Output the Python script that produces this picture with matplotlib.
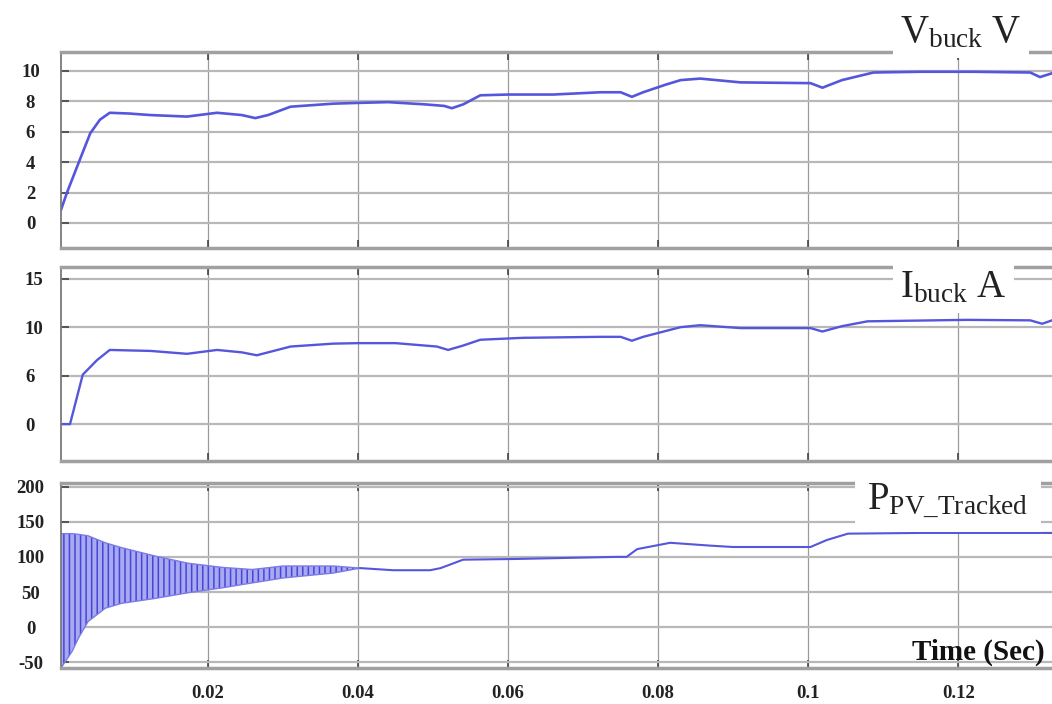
import numpy as np
import matplotlib
matplotlib.use("Agg")
import matplotlib.pyplot as plt
from matplotlib.transforms import ScaledTranslation

# datos
v_t = [0.0004, 0.0012, 0.0029, 0.0043, 0.0056, 0.0069, 0.0095, 0.0123, 0.0172, 0.0212,
       0.0245, 0.0263, 0.028, 0.031, 0.0367, 0.040, 0.044, 0.049, 0.0515, 0.0525,
       0.054, 0.0563, 0.060, 0.066, 0.0723, 0.075, 0.0765, 0.078, 0.081, 0.083,
       0.0856, 0.091, 0.1003, 0.1019, 0.1045, 0.1087, 0.115, 0.122, 0.1296, 0.1309,
       0.1325]
v_buck = [0.86, 2.0, 4.15, 5.9, 6.8, 7.25, 7.2, 7.1, 7.0, 7.25,
          7.1, 6.9, 7.1, 7.65, 7.85, 7.9, 7.95, 7.8, 7.7, 7.55,
          7.8, 8.4, 8.45, 8.45, 8.6, 8.6, 8.3, 8.6, 9.1, 9.4,
          9.5, 9.25, 9.2, 8.9, 9.4, 9.9, 9.95, 9.95, 9.9, 9.6,
          9.85]

i_t = [0.0004, 0.0016, 0.0033, 0.0052, 0.0069, 0.0095, 0.0123, 0.0172, 0.0212, 0.0245,
       0.0265, 0.028, 0.031, 0.0367, 0.040, 0.045, 0.0505, 0.052, 0.054, 0.0563,
       0.062, 0.0723, 0.075, 0.0765, 0.078, 0.081, 0.083, 0.0856, 0.091, 0.1003,
       0.1019, 0.1045, 0.1079, 0.1212, 0.1296, 0.1312, 0.1325]
i_buck = [0.0, 0.0, 5.1, 6.6, 7.65, 7.6, 7.55, 7.25, 7.65, 7.4,
          7.1, 7.4, 8.0, 8.3, 8.35, 8.35, 8.0, 7.65, 8.1, 8.7,
          8.9, 9.0, 9.0, 8.6, 9.0, 9.6, 10.0, 10.2, 9.9, 9.9,
          9.55, 10.1, 10.6, 10.75, 10.7, 10.35, 10.7]

# envolvente de la oscilacion inicial de potencia
p_osc_t = [0.0004, 0.0019, 0.0027, 0.004, 0.0063, 0.0085, 0.013, 0.0173, 0.0219, 0.0259,
           0.030, 0.0367, 0.0403]
p_osc_hi = [133, 133, 132, 130, 120, 113, 101, 91, 85, 82, 87, 87, 84]
p_osc_lo = [-58, -34, -16, 8, 27, 34, 41, 49, 56, 63, 70, 77, 84]

p_t = [0.0403, 0.0447, 0.0496, 0.051, 0.054, 0.0611, 0.0745, 0.0758, 0.0772, 0.0816,
       0.0869, 0.090, 0.1003, 0.1025, 0.1053, 0.115, 0.1325]
p_pv = [84, 81, 81, 84, 96, 97, 100, 100, 111, 120,
        116, 114, 114, 124, 133, 134, 134]

v_ticks = [0, 2, 4, 6, 8, 10]
i_ticks = [0, 5, 10, 15]
i_labels = ["0", "6", "10", "15"]
p_ticks = [-50, 0, 50, 100, 150, 200]
x_ticks = [0.02, 0.04, 0.06, 0.08, 0.1, 0.12]
x_labels = ["0.02", "0.04", "0.06", "0.08", "0.1", "0.12"]

azul = "#5656dc"
serif = "Liberation Serif"
plt.rcParams["hatch.linewidth"] = 1.1
plt.rcParams["axes.unicode_minus"] = False

fig = plt.figure(figsize=(10.52, 7.04), dpi=100)
W, H = 1052.0, 704.0

def panel(top, bottom):
    return fig.add_axes([61 / W, 1 - bottom / H, 1 - 61 / W, (bottom - top) / H])

ax1 = panel(52, 248)
ax2 = panel(267, 461)
ax3 = panel(483, 668)

ax1.plot(v_t, v_buck, color=azul, lw=1.9)
ax2.plot(i_t, i_buck, color=azul, lw=1.7)
ax3.fill_between(p_osc_t, p_osc_lo, p_osc_hi, facecolor="#a9a9f2",
                 edgecolor="#4646d6", hatch="|||", linewidth=0)
ax3.plot(p_osc_t, p_osc_hi, color="#7a7ae8", lw=1)
ax3.plot(p_osc_t, p_osc_lo, color="#7a7ae8", lw=1)
ax3.plot(p_t, p_pv, color=azul, lw=1.5)

ax1.set_ylim(-1.65, 11.25)
ax2.set_ylim(-3.8, 16.2)
ax3.set_ylim(-58, 205)
ax1.set_yticks(v_ticks)
ax2.set_yticks(i_ticks)
ax2.set_yticklabels(i_labels)
ax3.set_yticks(p_ticks)

for ax in (ax1, ax2, ax3):
    ax.set_xlim(0.0004, 0.1325)
    ax.set_xticks(x_ticks)
    ax.grid(axis="y", color="#b8b8b8", lw=1.6)
    ax.grid(axis="x", color="#9a9a9a", lw=0.9)
    ax.set_axisbelow(True)
    ax.spines["right"].set_visible(False)
    for s in ("top", "bottom"):
        ax.spines[s].set_color("#a0a0a0")
        ax.spines[s].set_linewidth(2.5)
    ax.spines["left"].set_color("#7a7a7a")
    ax.spines["left"].set_linewidth(1.3)
    ax.tick_params(axis="both", direction="in", length=6, width=1.2, color="#444444",
                   top=True, bottom=True)
    for lab in ax.get_yticklabels():
        lab.set_fontfamily(serif)
        lab.set_fontweight("bold")
        lab.set_fontsize(13.5)
        lab.set_color("#222222")
        lab.set_transform(lab.get_transform() + ScaledTranslation(0, -0.07, fig.dpi_scale_trans))

for ax in (ax1, ax3):
    ax.tick_params(axis="y", pad=22)
    for lab in ax.get_yticklabels():
        lab.set_horizontalalignment("center")
ax2.tick_params(axis="y", pad=26)
for lab in ax2.get_yticklabels():
    lab.set_horizontalalignment("left")

ax1.set_xticklabels([])
ax2.set_xticklabels([])
ax3.set_xticklabels(x_labels, fontfamily=serif, fontweight="bold", fontsize=13.5, color="#222222")
ax3.tick_params(axis="x", pad=12)

caja = dict(facecolor="white", edgecolor="none", pad=5)
fig.text(900 / W, 1 - 42 / H, r"$\mathregular{V_{buck}}$ V", fontfamily=serif, fontsize=28,
         color="#222222", va="baseline", ha="left", bbox=caja)
fig.text(900 / W, 1 - 297 / H, r"$\mathregular{I_{buck}}$ A", fontfamily=serif, fontsize=28,
         color="#222222", va="baseline", ha="left", bbox=caja)
fig.text(867 / W, 1 - 509 / H, r"$\mathregular{P_{PV\_Tracked}}$", fontfamily=serif, fontsize=28,
         color="#222222", va="baseline", ha="left", bbox=dict(facecolor="white", edgecolor="none", pad=9))
fig.text(912 / W, 1 - 660 / H, "Time (Sec)", fontfamily=serif, fontsize=21,
         fontweight="bold", color="#111111", va="baseline", ha="left")

fig.savefig("out.png", dpi=100)
